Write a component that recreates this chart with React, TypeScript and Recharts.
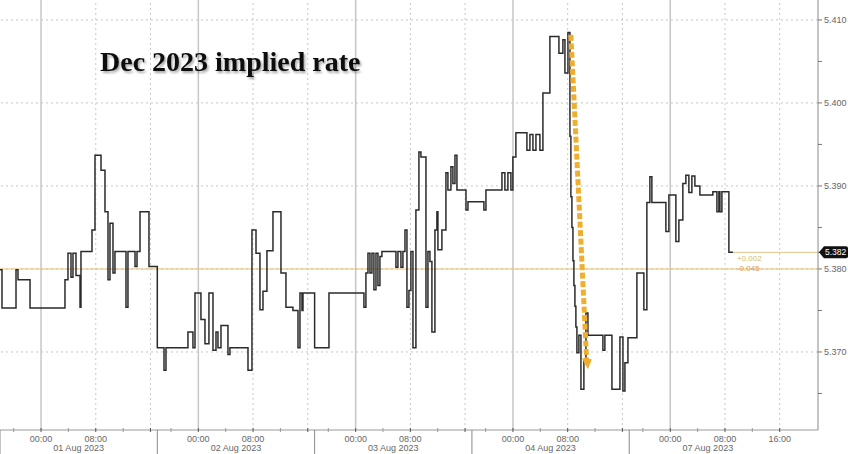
import { LineChart, Line, XAxis, YAxis, ReferenceLine, ReferenceDot } from "recharts";

// session labels (each session runs 18:00 the evening before -> 17:00)
const sessionDates = ["01 Aug 2023", "02 Aug 2023", "03 Aug 2023", "04 Aug 2023", "07 Aug 2023"];

// hours relative to midnight of the session date (negative = previous evening)
const aug01Hours = [-6, -5.71, -3.66, -3.37, -1.61, 3.5, 3.94, 4.38, 4.67, 5.11, 5.7, 5.84, 7.45, 7.89, 8.77, 9.35, 9.79, 10.08, 10.52, 10.81, 12.42, 12.71, 13.74, 14.03, 14.47, 15.78];
const aug01Rates = [5.3799, 5.3753, 5.3799, 5.3787, 5.3753, 5.3787, 5.3819, 5.379, 5.3819, 5.3792, 5.3754, 5.3821, 5.3847, 5.3937, 5.3919, 5.3869, 5.3787, 5.3855, 5.3795, 5.3821, 5.3754, 5.3821, 5.3803, 5.3821, 5.3869, 5.3803];

const aug02Hours = [-6, -5.02, -4.73, -1.52, -0.79, -0.49, 0.38, 0.97, 1.55, 2.14, 2.58, 2.87, 3.31, 4.33, 4.62, 7.26, 7.84, 8.43, 9.01, 9.45, 10.03, 10.91, 12.08, 12.81, 13.83, 14.57, 14.86, 15.15, 15.3];
const aug02Rates = [5.3705, 5.3678, 5.3705, 5.3724, 5.3705, 5.3771, 5.3739, 5.371, 5.3771, 5.3702, 5.3724, 5.3705, 5.3732, 5.3697, 5.3705, 5.3678, 5.3847, 5.3819, 5.3751, 5.3773, 5.3822, 5.3869, 5.3795, 5.3754, 5.375, 5.3705, 5.3771, 5.375, 5.3771];

const aug03Hours = [-6, -3.9, 1.21, 1.5, 1.8, 2.09, 2.38, 2.67, 2.97, 3.26, 3.55, 3.84, 5.89, 6.18, 6.62, 6.91, 7.21, 7.5, 7.79, 8.08, 8.38, 8.81, 9.25, 9.54, 10.28, 10.57, 10.86, 11.15, 11.59, 11.88, 12.03, 12.61, 13.2, 13.49, 13.93, 14.22, 14.52, 14.81, 16.13, 16.42];
const aug03Rates = [5.3705, 5.3771, 5.3754, 5.3795, 5.3819, 5.3795, 5.3819, 5.3775, 5.3819, 5.378, 5.3815, 5.3821, 5.3802, 5.3821, 5.3802, 5.3821, 5.3847, 5.3754, 5.3774, 5.3821, 5.3705, 5.3871, 5.3941, 5.3935, 5.3754, 5.3821, 5.3809, 5.3724, 5.3847, 5.3869, 5.3823, 5.3847, 5.3916, 5.3895, 5.3923, 5.3903, 5.3937, 5.3895, 5.3871, 5.3881];

const aug04Hours = [-6, -4.25, -3.95, -1.61, -1.18, -0.74, -0.3, -0.01, 0.43, 2.04, 2.48, 2.92, 3.36, 3.94, 4.38, 5.4, 6.72, 7.3, 7.6, 8.04, 8.33, 8.47, 8.62, 8.77, 8.91, 9.06, 9.2, 9.35, 9.64, 9.94, 10.37, 10.67, 10.96, 13.15, 13.44, 14.47, 15.64, 16.08, 16.37, 16.81];
const aug04Rates = [5.3881, 5.3871, 5.3895, 5.3916, 5.3895, 5.3916, 5.3895, 5.3935, 5.3964, 5.3943, 5.3962, 5.3943, 5.3962, 5.3943, 5.4012, 5.408, 5.406, 5.4076, 5.4036, 5.4085, 5.396, 5.3887, 5.385, 5.381, 5.378, 5.3755, 5.373, 5.3699, 5.372, 5.3655, 5.369, 5.3747, 5.372, 5.3702, 5.372, 5.3655, 5.3718, 5.3653, 5.3687, 5.3717];

const aug07Hours = [-6, -4.88, -3.86, -3.42, -2.98, -2.69, -0.64, -0.2, 0.82, 1.26, 1.84, 2.28, 2.72, 3.16, 3.6, 4.33, 6.23, 6.82, 7.11, 7.26, 7.55, 8.57, 9.16];
const aug07Rates = [5.3717, 5.3795, 5.3751, 5.388, 5.3911, 5.388, 5.3845, 5.3889, 5.3833, 5.3859, 5.3903, 5.3913, 5.3892, 5.3912, 5.39, 5.3889, 5.3893, 5.3869, 5.3893, 5.3869, 5.3893, 5.382, 5.382];

const yMajor = [5.37, 5.38, 5.39, 5.4, 5.41];
const yMinor = [5.365, 5.375, 5.385, 5.395, 5.405];
const lastRate = 5.382;
const baseLevel = 5.38;
const changeLabels = ["+0.002", "-0.045"];

// orange annotation arrow (session 4, clock hours / rate)
const arrowStart = { session: 3, hour: 8.47, rate: 5.4082 };
const arrowEnd = { session: 3, hour: 10.81, rate: 5.3684 };

const SESSION_LEN = 23;
const OPEN_OFFSET = 6;
const X_MAX = 119.6;
const Y_MIN = 5.3606;
const Y_MAX = 5.4124;

const toX = (session: number, hour: number) => session * SESSION_LEN + OPEN_OFFSET + hour;

const sessions = [
  { hours: aug01Hours, rates: aug01Rates },
  { hours: aug02Hours, rates: aug02Rates },
  { hours: aug03Hours, rates: aug03Rates },
  { hours: aug04Hours, rates: aug04Rates },
  { hours: aug07Hours, rates: aug07Rates },
];

const data = sessions.flatMap((s, i) => s.hours.map((h, j) => ({ x: toX(i, h), rate: s.rates[j] })));
const lastX = data[data.length - 1].x;

type TickInfo = { kind: "major" | "minor" | "sep" | "date"; label?: string };
const tickInfo = new Map<number, TickInfo>();
const gridSolid: number[] = [];
const gridDotted: number[] = [];
sessionDates.forEach((d, i) => {
  tickInfo.set(i * SESSION_LEN, { kind: "sep" });
  tickInfo.set(toX(i, 5.5), { kind: "date", label: d });
  tickInfo.set(toX(i, -4), { kind: "minor" });
  tickInfo.set(toX(i, 0), { kind: "major", label: "00:00" });
  tickInfo.set(toX(i, 4), { kind: "minor" });
  tickInfo.set(toX(i, 8), { kind: "major", label: "08:00" });
  tickInfo.set(toX(i, 12), { kind: "minor" });
  tickInfo.set(toX(i, 16), { kind: "major", label: i === sessionDates.length - 1 ? "16:00" : "" });
  gridSolid.push(toX(i, 0));
  gridDotted.push(toX(i, 8), toX(i, 16));
});
const xTicks = Array.from(tickInfo.keys()).sort((a, b) => a - b);

const axisFont = "'Liberation Sans', Arial, sans-serif";

function XTick(props: any) {
  const { x, y, payload } = props;
  const t = tickInfo.get(payload.value);
  if (!t) return null;
  if (t.kind === "sep") return <line x1={x} x2={x} y1={y} y2={y + 24} stroke="#8a8a8a" strokeWidth={1} />;
  if (t.kind === "date")
    return (
      <text x={x} y={y + 21} textAnchor="middle" fontSize={9} fill="#666" fontFamily={axisFont}>
        {t.label}
      </text>
    );
  return (
    <g>
      <line x1={x} x2={x} y1={y - 2} y2={y + 2} stroke={t.kind === "major" ? "#555" : "#999"} />
      {t.label ? (
        <text x={x} y={y + 12} textAnchor="middle" fontSize={9} fill="#666" fontFamily={axisFont}>
          {t.label}
        </text>
      ) : null}
    </g>
  );
}

function YTick(props: any) {
  const { x, y, payload } = props;
  const v = payload.value;
  if (v === lastRate) {
    return (
      <g>
        <path
          d={`M${x - 5},${y} L${x},${y - 6} L${x + 22},${y - 6} Q${x + 24},${y - 6} ${x + 24},${y - 4} L${x + 24},${y + 4} Q${x + 24},${y + 6} ${x + 22},${y + 6} L${x},${y + 6} Z`}
          fill="#111"
        />
        <text x={x + 1} y={y + 3} fontSize={8.5} fill="#fff" fontFamily={axisFont}>
          {v.toFixed(3)}
        </text>
      </g>
    );
  }
  if (yMajor.includes(v)) {
    return (
      <text x={x} y={y + 3} fontSize={9} fill="#666" fontFamily={axisFont}>
        {v.toFixed(3)}
      </text>
    );
  }
  return null;
}

const ArrowHead = (props: any) => {
  const { cx, cy } = props;
  return <polygon points={`${cx - 5},${cy - 7} ${cx + 5},${cy - 6} ${cx + 1},${cy + 4}`} fill="#f0ac2c" />;
};

const ChangeText = (props: any) => {
  const { cx, cy } = props;
  return (
    <g fontFamily={axisFont} fontSize={8}>
      <text x={cx + 4} y={cy + 9} fill="#d8bb62">
        {changeLabels[0]}
      </text>
      <text x={cx + 4} y={cy + 19} fill="#dfa24e">
        {changeLabels[1]}
      </text>
    </g>
  );
};

export default function App() {
  return (
    <div style={{ position: "absolute", left: 0, top: 0, width: 848, height: 454, background: "#fff" }}>
      <LineChart width={848} height={454} data={data} margin={{ top: 0, right: 0, left: 0, bottom: 0 }}>
        <XAxis
          type="number"
          dataKey="x"
          domain={[0, X_MAX]}
          allowDataOverflow
          ticks={xTicks}
          interval={0}
          height={24}
          tickSize={0}
          tickMargin={0}
          tickLine={false}
          axisLine={{ stroke: "#9a9a9a" }}
          tick={<XTick />}
        />
        <YAxis
          orientation="right"
          type="number"
          domain={[Y_MIN, Y_MAX]}
          allowDataOverflow
          ticks={[...yMinor, ...yMajor, lastRate].sort((a, b) => a - b)}
          interval={0}
          width={30}
          tickSize={4}
          tickMargin={2}
          axisLine={{ stroke: "#8a8a8a" }}
          tickLine={{ stroke: "#777" }}
          tick={<YTick />}
        />
        {yMajor.map((v) => (
          <ReferenceLine key={`h${v}`} y={v} stroke="#c4c4c4" strokeDasharray="2 3" />
        ))}
        {gridSolid.map((v) => (
          <ReferenceLine key={`s${v}`} x={v} stroke="#c6c6c6" strokeWidth={1.5} />
        ))}
        {gridDotted.map((v) => (
          <ReferenceLine key={`d${v}`} x={v} stroke="#c8c8c8" strokeDasharray="2 3" />
        ))}
        <ReferenceLine y={baseLevel} stroke="#e6c07a" strokeWidth={1} />
        <ReferenceLine
          segment={[
            { x: lastX, y: lastRate },
            { x: X_MAX, y: lastRate },
          ]}
          stroke="#e2c48a"
          strokeWidth={1}
        />
        <Line
          type="stepAfter"
          dataKey="rate"
          stroke="#2b2b2b"
          strokeWidth={1.5}
          dot={false}
          activeDot={false}
          isAnimationActive={false}
        />
        <ReferenceLine
          segment={[
            { x: toX(arrowStart.session, arrowStart.hour), y: arrowStart.rate },
            { x: toX(arrowEnd.session, arrowEnd.hour), y: arrowEnd.rate },
          ]}
          stroke="#f0ae2e"
          strokeWidth={5}
          strokeDasharray="6 2.5"
        />
        <ReferenceDot
          x={toX(arrowEnd.session, arrowEnd.hour)}
          y={arrowEnd.rate}
          shape={<ArrowHead />}
        />
        <ReferenceDot x={lastX} y={lastRate} shape={<ChangeText />} />
      </LineChart>
      <svg
        width={848}
        height={454}
        style={{ position: "absolute", left: 0, top: 0, pointerEvents: "none" }}
      >
        <defs>
          <filter id="titleShadow" x="-10%" y="-30%" width="120%" height="160%">
            <feDropShadow dx="1.5" dy="2" stdDeviation="1.2" floodColor="#000" floodOpacity="0.35" />
          </filter>
        </defs>
        <text
          x={100}
          y={71}
          fontFamily="'Liberation Serif', 'Times New Roman', serif"
          fontWeight="bold"
          fontSize={28}
          fill="#111"
          filter="url(#titleShadow)"
        >
          Dec 2023 implied rate
        </text>
      </svg>
    </div>
  );
}
